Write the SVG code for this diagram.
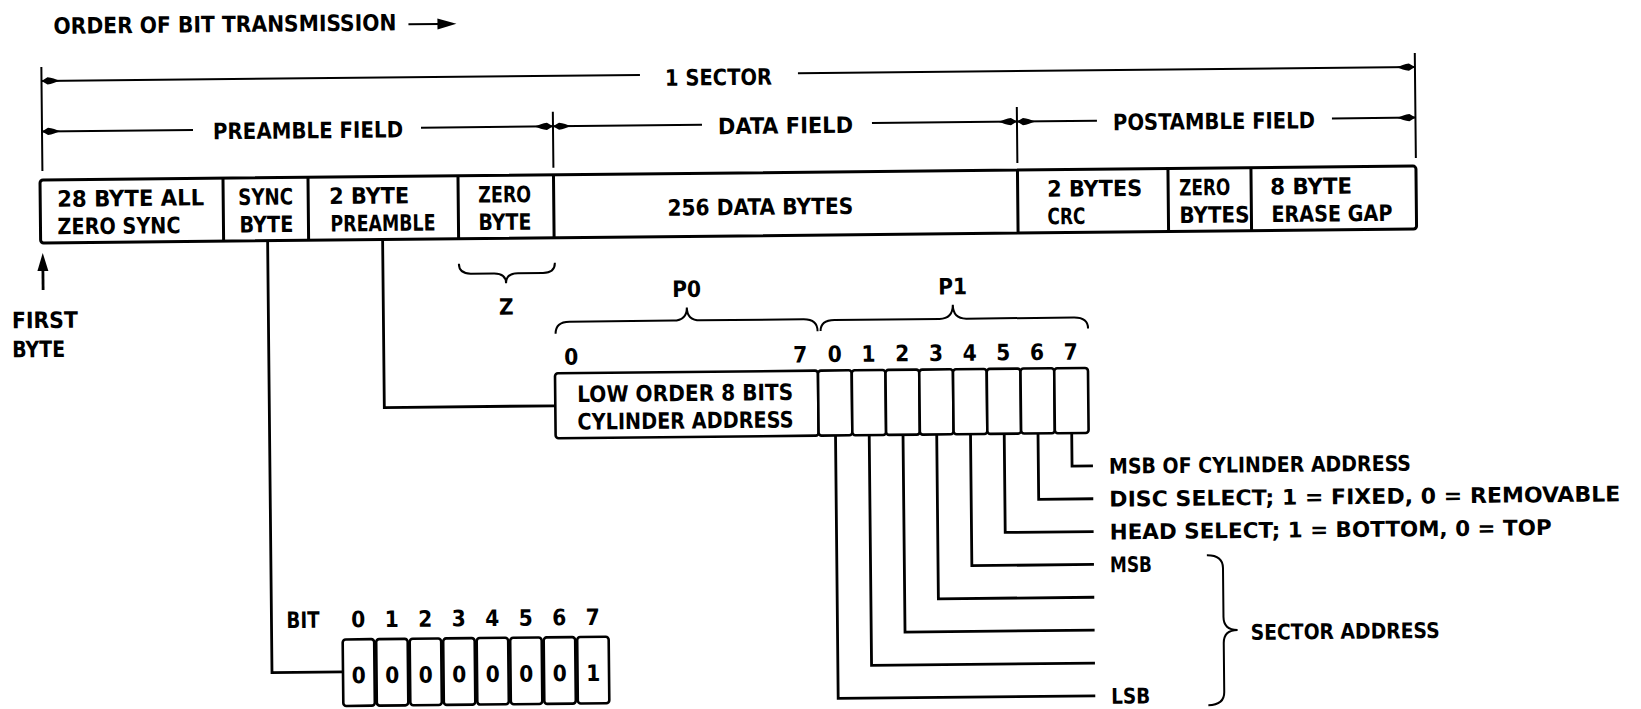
<svg xmlns="http://www.w3.org/2000/svg" width="1641" height="709" viewBox="0 0 1641 709">
<style>
.t{font-family:'Liberation Sans Narrow','DejaVu Sans Condensed','Liberation Sans',sans-serif;font-weight:700;font-size:22.5px;fill:#000}
.s{font-size:21.5px}
.m{text-anchor:middle}
.ln{stroke:#000;stroke-width:2;fill:none}
.bx{stroke:#000;stroke-width:3;fill:#fff}
.cl{stroke:#000;stroke-width:2.6;fill:#fff}
.cn{stroke:#000;stroke-width:2.8;fill:none}
</style>
<defs>
<marker id="aE" viewBox="-20 -5 22 10" refX="0" refY="0" markerWidth="22" markerHeight="10" markerUnits="userSpaceOnUse" orient="auto"><path d="M0,0 L-6,-3.6 C-10,-3.6 -14,-1.2 -19,0 C-14,1.2 -10,3.6 -6,3.6 Z" fill="#000"/></marker>
<marker id="aS" viewBox="-2 -5 22 10" refX="0" refY="0" markerWidth="22" markerHeight="10" markerUnits="userSpaceOnUse" orient="auto"><path d="M0,0 L6,-3.6 C10,-3.6 14,-1.2 19,0 C14,1.2 10,3.6 6,3.6 Z" fill="#000"/></marker>
</defs>
<rect width="1641" height="709" fill="#fff"/>
<g transform="rotate(-0.58 40 180)">
<g id="title">
<text class="t" x="55" y="34" font-size="17.5" textLength="343" lengthAdjust="spacingAndGlyphs">ORDER OF BIT TRANSMISSION</text>
<path class="ln" stroke-width="2.4" d="M410,28 H442"/>
<path d="M458,28 L439,22.5 L439,33.5 Z" fill="#000"/>
</g>
<g id="dimensions">
<path class="ln" d="M42.5,67 V171 M1416,67 V172 M553.5,117 V173 M1017.5,117 V173"/>
<path class="ln" d="M42.5,81 H641" marker-start="url(#aS)"/>
<path class="ln" d="M799,81 H1416" marker-end="url(#aE)"/>
<text class="t" x="666" y="92" textLength="107" lengthAdjust="spacingAndGlyphs">1 SECTOR</text>
<path class="ln" d="M42.5,131.5 H193.5" marker-start="url(#aS)"/>
<path class="ln" d="M421.5,131.5 H553.5" marker-end="url(#aE)"/>
<text class="t" x="213.5" y="141" textLength="190" lengthAdjust="spacingAndGlyphs">PREAMBLE FIELD</text>
<path class="ln" d="M553.5,131.5 H702.5" marker-start="url(#aS)"/>
<path class="ln" d="M872.5,131.5 H1017.5" marker-end="url(#aE)"/>
<text class="t" x="718.5" y="141" textLength="135" lengthAdjust="spacingAndGlyphs">DATA FIELD</text>
<path class="ln" d="M1017.5,131.5 H1097.5" marker-start="url(#aS)"/>
<path class="ln" d="M1332.5,131.5 H1416" marker-end="url(#aE)"/>
<text class="t" x="1113.5" y="141" textLength="202" lengthAdjust="spacingAndGlyphs">POSTAMBLE FIELD</text>
</g>
<g id="sector-fields">
<rect class="bx" x="40" y="180" width="1376" height="63" rx="3"/>
<path class="bx" d="M223,180 V243 M308,180 V243 M458,180 V243 M553.5,180 V243 M1017.5,180 V243 M1168,180 V243 M1251,180 V243"/>
</g>
<g id="zero-sync">
<text class="t" x="57" y="207" textLength="147" lengthAdjust="spacingAndGlyphs">28 BYTE ALL</text>
<text class="t" x="57" y="234.5" textLength="123" lengthAdjust="spacingAndGlyphs">ZERO SYNC</text>
</g>
<g id="sync-byte">
<text class="t" x="238" y="207" textLength="55" lengthAdjust="spacingAndGlyphs">SYNC</text>
<text class="t" x="239" y="234.5" textLength="54" lengthAdjust="spacingAndGlyphs">BYTE</text>
</g>
<g id="preamble">
<text class="t" x="329" y="207" textLength="80" lengthAdjust="spacingAndGlyphs">2 BYTE</text>
<text class="t" x="330" y="234.5" textLength="105" lengthAdjust="spacingAndGlyphs">PREAMBLE</text>
</g>
<g id="zero-byte">
<text class="t" x="478" y="207" textLength="53" lengthAdjust="spacingAndGlyphs">ZERO</text>
<text class="t" x="478" y="234.5" textLength="53" lengthAdjust="spacingAndGlyphs">BYTE</text>
</g>
<g id="data-bytes">
<text class="t" x="667" y="222" textLength="186" lengthAdjust="spacingAndGlyphs">256 DATA BYTES</text>
</g>
<g id="crc">
<text class="t" x="1047" y="207" textLength="95" lengthAdjust="spacingAndGlyphs">2 BYTES</text>
<text class="t" x="1047" y="234.5" textLength="38" lengthAdjust="spacingAndGlyphs">CRC</text>
</g>
<g id="zero-bytes">
<text class="t" x="1179" y="207" textLength="51" lengthAdjust="spacingAndGlyphs">ZERO</text>
<text class="t" x="1179" y="234.5" textLength="70" lengthAdjust="spacingAndGlyphs">BYTES</text>
</g>
<g id="erase-gap">
<text class="t" x="1270" y="207" textLength="82" lengthAdjust="spacingAndGlyphs">8 BYTE</text>
<text class="t" x="1271" y="234.5" textLength="121" lengthAdjust="spacingAndGlyphs">ERASE GAP</text>
</g>
<g id="first-byte">
<text class="t" x="10.5" y="328" textLength="66" lengthAdjust="spacingAndGlyphs">FIRST</text>
<text class="t" x="10.5" y="357" textLength="53" lengthAdjust="spacingAndGlyphs">BYTE</text>
</g>
<g id="z-brace">
<path class="ln" stroke-width="2.4" d="M458,268 Q458,278 470,278 L493,278 Q505,278 505,288 Q505,278 517,278 L542,278 Q554,278 554,268"/>
<text class="t m" x="505" y="319.5">Z</text>
</g>
<g id="p0">
<path class="ln" stroke-width="2.4" d="M554,339 Q554,327 568,327 L672,327 Q685.5,327 685.5,314 Q685.5,327 699,327 L802,327 Q816,327 816,339"/>
<text class="t m" x="685.5" y="303.5" font-size="21">P0</text>
<text class="t m" x="569.3" y="370">0</text>
<text class="t m" x="798.3" y="370">7</text>
<rect class="cl" x="553" y="378.5" width="263" height="65" rx="3"/>
<text class="t" x="575" y="407.5" font-size="20.5" textLength="216" lengthAdjust="spacingAndGlyphs">LOW ORDER 8 BITS</text>
<text class="t" x="575" y="435" font-size="20.5" textLength="216" lengthAdjust="spacingAndGlyphs">CYLINDER ADDRESS</text>
</g>
<g id="p1">
<path class="ln" stroke-width="2.4" d="M819,339 Q819,328 833,328 L938,328 Q951.5,328 951.5,314 Q951.5,328 965,328 L1072.5,328 Q1086.5,328 1086.5,339"/>
<text class="t m" x="951.5" y="303.5" font-size="21">P1</text>
<text class="t m" x="833" y="370">0</text>
<text class="t m" x="866.7" y="370">1</text>
<text class="t m" x="900.4" y="370">2</text>
<text class="t m" x="934.1" y="370">3</text>
<text class="t m" x="967.8" y="370">4</text>
<text class="t m" x="1001.5" y="370">5</text>
<text class="t m" x="1035.2" y="370">6</text>
<text class="t m" x="1068.9" y="370">7</text>
<rect class="cl" x="816" y="378.5" width="33.75" height="65" rx="3"/>
<rect class="cl" x="849.75" y="378.5" width="33.75" height="65" rx="3"/>
<rect class="cl" x="883.5" y="378.5" width="33.75" height="65" rx="3"/>
<rect class="cl" x="917.25" y="378.5" width="33.75" height="65" rx="3"/>
<rect class="cl" x="951" y="378.5" width="33.75" height="65" rx="3"/>
<rect class="cl" x="984.75" y="378.5" width="33.75" height="65" rx="3"/>
<rect class="cl" x="1018.5" y="378.5" width="33.75" height="65" rx="3"/>
<rect class="cl" x="1052.25" y="378.5" width="33.75" height="65" rx="3"/>
</g>
<g id="bit-meanings">
<text class="t s" x="1106" y="484.5" textLength="302" lengthAdjust="spacingAndGlyphs">MSB OF CYLINDER ADDRESS</text>
<text class="t s" x="1106" y="517.4" textLength="511" lengthAdjust="spacingAndGlyphs">DISC SELECT; 1 = FIXED, 0 = REMOVABLE</text>
<text class="t s" x="1106" y="550.2" textLength="442" lengthAdjust="spacingAndGlyphs">HEAD SELECT; 1 = BOTTOM, 0 = TOP</text>
<text class="t s" x="1106" y="583.1" textLength="42" lengthAdjust="spacingAndGlyphs">MSB</text>
<text class="t s" x="1106" y="714.5" textLength="39" lengthAdjust="spacingAndGlyphs">LSB</text>
</g>
<g id="sector-address">
<path class="ln" stroke-width="2.4" d="M1203,567 Q1219,567 1219,580 L1219,629 Q1219,642 1233,642 Q1219,642 1219,655 L1219,704 Q1219,717 1203,717"/>
<text class="t s" x="1246" y="652" textLength="189" lengthAdjust="spacingAndGlyphs">SECTOR ADDRESS</text>
</g>
<g id="sync-bits">
<text class="t" x="282" y="630.5" font-size="20.5" textLength="33" lengthAdjust="spacingAndGlyphs">BIT</text>
<text class="t m" x="353.75" y="630.5" font-size="20.5">0</text>
<text class="t m" x="387.25" y="630.5" font-size="20.5">1</text>
<text class="t m" x="420.75" y="630.5" font-size="20.5">2</text>
<text class="t m" x="454.25" y="630.5" font-size="20.5">3</text>
<text class="t m" x="487.75" y="630.5" font-size="20.5">4</text>
<text class="t m" x="521.25" y="630.5" font-size="20.5">5</text>
<text class="t m" x="554.75" y="630.5" font-size="20.5">6</text>
<text class="t m" x="588.25" y="630.5" font-size="20.5">7</text>
<rect class="cl" x="338" y="642.5" width="31.5" height="66.5" rx="3"/>
<rect class="cl" x="371.5" y="642.5" width="31.5" height="66.5" rx="3"/>
<rect class="cl" x="405" y="642.5" width="31.5" height="66.5" rx="3"/>
<rect class="cl" x="438.5" y="642.5" width="31.5" height="66.5" rx="3"/>
<rect class="cl" x="472" y="642.5" width="31.5" height="66.5" rx="3"/>
<rect class="cl" x="505.5" y="642.5" width="31.5" height="66.5" rx="3"/>
<rect class="cl" x="539" y="642.5" width="31.5" height="66.5" rx="3"/>
<rect class="cl" x="572.5" y="642.5" width="31.5" height="66.5" rx="3"/>
<text class="t m" x="353.75" y="686.5">0</text>
<text class="t m" x="387.25" y="686.5">0</text>
<text class="t m" x="420.75" y="686.5">0</text>
<text class="t m" x="454.25" y="686.5">0</text>
<text class="t m" x="487.75" y="686.5">0</text>
<text class="t m" x="521.25" y="686.5">0</text>
<text class="t m" x="554.75" y="686.5">0</text>
<text class="t m" x="588.25" y="686.5">1</text>
</g>
<g id="connectors">
<path class="cn" d="M42,290 V268"/>
<path d="M42,253 L36.5,271 L47.5,271 Z" fill="#000"/>
<path class="cn" d="M267,243 V675 H338"/>
<path class="cn" d="M382,243 V411 H553"/>
<path class="cn" d="M1069.1,443.5 V476.5 H1090"/>
<path class="cn" d="M1035.4,443.5 V509.4 H1090"/>
<path class="cn" d="M1001.6,443.5 V542.2 H1090"/>
<path class="cn" d="M967.9,443.5 V575.1 H1090"/>
<path class="cn" d="M934.1,443.5 V607.9 H1090"/>
<path class="cn" d="M900.4,443.5 V640.8 H1090"/>
<path class="cn" d="M866.6,443.5 V673.7 H1090"/>
<path class="cn" d="M832.9,443.5 V706.5 H1090"/>
</g>
</g>
</svg>
